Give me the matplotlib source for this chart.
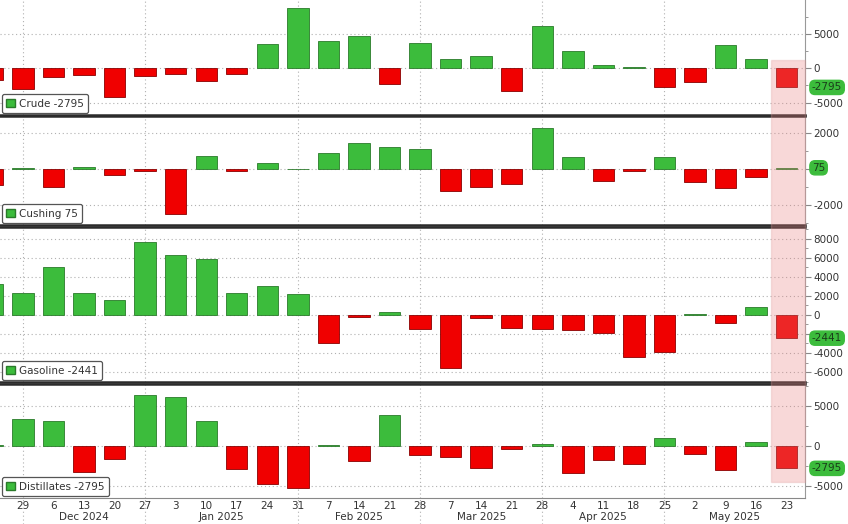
import matplotlib
matplotlib.use('Agg')
import matplotlib.pyplot as plt
from matplotlib.patches import Patch, Rectangle
from matplotlib.ticker import MultipleLocator
import pandas as pd

# weekly EIA changes, Nov 22 2024 .. May 23 2025
weeks = pd.date_range('2024-11-22', periods=27, freq='7D')

crude = [-1700, -3000, -1300, -1000, -4200, -1100, -900, -1900, -900, 3500,
         8700, 4000, 4600, -2300, 3600, 1400, 1700, -3300, 6100, 2500,
         500, 200, -2700, -2000, 3400, 1300, -2795]
cushing = [-900, 50, -1000, 100, -300, -100, -2500, 750, -100, 350,
           30, 900, 1450, 1250, 1100, -1200, -1000, -800, 2300, 650,
           -650, -100, 650, -700, -1050, -450, 75]
gasoline = [3300, 2350, 5000, 2300, 1600, 7700, 6300, 5900, 2300, 3000,
            2200, -3000, -200, 300, -1500, -5600, -350, -1400, -1500, -1600,
            -1850, -4400, -3900, 150, -850, 800, -2441]
distillates = [100, 3350, 3150, -3300, -1600, 6350, 6100, 3100, -2900, -4800,
               -5300, 100, -1900, 3900, -1100, -1400, -2800, -400, 200, -3400,
               -1800, -2300, 1000, -1000, -3000, 500, -2795]

labels = ['Crude -2795', 'Cushing 75', 'Gasoline -2441', 'Distillates -2795']
tags = ['-2795', '75', '-2441', '-2795']
series = [crude, cushing, gasoline, distillates]
ylims = [(-6800, 9900), (-3100, 2950), (-7050, 9250), (-6500, 7750)]
yticks = [[-5000, 0, 5000], [-2000, 0, 2000],
          [-6000, -4000, -2000, 0, 2000, 4000, 6000, 8000], [-5000, 0, 5000]]
# tick labels hidden behind the last-value tag
hidden = [[], [0], [-2000], []]
yminor = [2500, 1000, 1000, 2500]

# month separators (last week of month) and month names
seps = [1, 5, 10, 14, 18, 22]
months = ['Dec 2024', 'Jan 2025', 'Feb 2025', 'Mar 2025', 'Apr 2025', 'May 2025']

GREEN = '#3cbc3c'
RED = '#f00000'
W, H = 848, 524
XMAX = 26.6

# pixel rows of each panel (top, bottom)
rows = [(0, 115), (116, 225), (227, 382), (384, 498)]

fig = plt.figure(figsize=(W / 100, H / 100), dpi=100)
fig.patch.set_facecolor('white')
plt.rcParams['font.family'] = 'DejaVu Sans'

x = list(range(len(weeks)))
axes = []
for i, (vals, (t, b)) in enumerate(zip(series, rows)):
    ax = fig.add_axes([0, 1 - b / H, 805 / W, (b - t) / H])
    axes.append(ax)
    cols = [GREEN if v >= 0 else RED for v in vals]
    edges = ['#2a7a2a' if v >= 0 else '#8a0000' for v in vals]
    ax.bar(x, vals, width=0.7, color=cols, edgecolor=edges, linewidth=0.6, zorder=3)
    ax.set_xlim(0.25, XMAX)
    ax.set_ylim(*ylims[i])
    ax.yaxis.tick_right()
    ax.set_yticks(yticks[i])
    ax.set_yticklabels(['' if v in hidden[i] else str(v) for v in yticks[i]])
    ax.yaxis.set_minor_locator(MultipleLocator(yminor[i]))
    ax.tick_params(axis='y', which='major', length=4, width=0.8, color='#888888',
                   labelsize=7.5, labelcolor='#333333', pad=2)
    ax.tick_params(axis='y', which='minor', length=2, color='#888888')
    for yv in yticks[i]:
        ax.axhline(yv, color='#b0b0b0', lw=0.8, ls=(0, (1, 2.5)), zorder=1)
    for s in seps:
        ax.axvline(s, color='#b0b0b0', lw=0.8, ls=(0, (1, 2.5)), zorder=1)
    ax.spines['left'].set_visible(False)
    ax.spines['right'].set_color('#999999')
    ax.spines['right'].set_linewidth(0.8)
    ax.spines['top'].set_visible(i > 0)
    ax.spines['top'].set_color('#2b2b2b')
    ax.spines['top'].set_linewidth(1.8)
    if i < 3:
        ax.spines['bottom'].set_color('#2b2b2b')
        ax.spines['bottom'].set_linewidth(1.8)
        ax.set_xticks([])
    else:
        ax.spines['bottom'].set_color('#888888')
        ax.spines['bottom'].set_linewidth(0.8)

    leg = ax.legend(handles=[Patch(facecolor=GREEN, edgecolor='#2a7a2a')],
                    labels=[labels[i]], loc='lower left', handlelength=0.8,
                    handleheight=0.8, handletextpad=0.4, borderpad=0.45,
                    borderaxespad=0.15, fontsize=7.5, fancybox=True,
                    framealpha=1, edgecolor='#555555')
    leg.get_frame().set_linewidth(0.9)
    for txt in leg.get_texts():
        txt.set_color('#333333')

    ax.annotate(tags[i], xy=(1.0, vals[-1]), xycoords=('axes fraction', 'data'),
                xytext=(5, 0), textcoords='offset points', va='center', ha='left',
                fontsize=7.5, color='#1a3d1a', annotation_clip=False, zorder=12,
                bbox=dict(boxstyle='round,pad=0.2,rounding_size=0.5', fc=GREEN, ec=GREEN))

ax4 = axes[3]
ax4.set_xticks(x[1:])
ax4.set_xticklabels([str(d.day) for d in weeks[1:]])
ax4.tick_params(axis='x', length=0, labelsize=7.5, labelcolor='#333333', pad=2)
bounds = seps + [XMAX]
for j, m in enumerate(months):
    ax4.text((bounds[j] + bounds[j + 1]) / 2, -0.125, m, transform=ax4.get_xaxis_transform(),
             ha='center', va='top', fontsize=7.5, color='#333333')
for s in seps:
    ax4.axvline(s, ymin=-0.23, ymax=0, color='#b0b0b0', lw=0.8,
                ls=(0, (1, 2.5)), clip_on=False)

# highlight of the latest week
fig.patches.append(Rectangle((771 / W, 1 - 482 / H), 34 / W, 422 / H,
                             transform=fig.transFigure, facecolor='#e88080',
                             edgecolor='#e0a0a0', alpha=0.3, zorder=10))

fig.savefig('out.png', dpi=100)
